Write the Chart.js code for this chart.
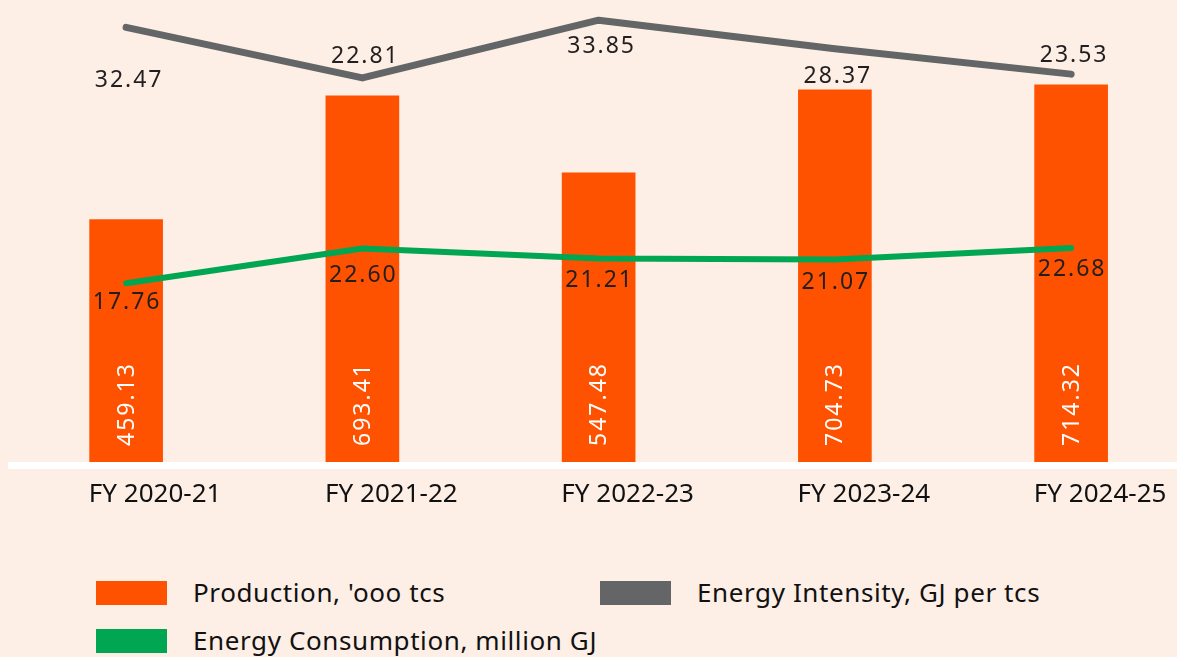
<!DOCTYPE html>
<html>
<head>
<meta charset="utf-8">
<script src="https://cdn.jsdelivr.net/npm/chart.js@4.4.1/dist/chart.umd.min.js"></script>
<style>
  html, body { margin: 0; padding: 0; background: #fdeee6; width: 1177px; height: 657px; overflow: hidden; }
  #wrap { position: absolute; left: 0; top: 0; width: 1200px; height: 540px; }
  .leg { position: absolute; font-family: "Noto Sans", sans-serif; font-size: 26px; letter-spacing: 0.6px; color: #111; line-height: 26px; white-space: nowrap; }
  .sw { position: absolute; width: 71px; height: 24px; }
</style>
</head>
<body>
<div id="wrap"><canvas id="c" width="1200" height="540"></canvas></div>
<div id="legend"></div>
<script>
const categories = ['FY 2020-21', 'FY 2021-22', 'FY 2022-23', 'FY 2023-24', 'FY 2024-25'];
const production = [459.13, 693.41, 547.48, 704.73, 714.32];
const energyIntensity = [32.47, 22.81, 33.85, 28.37, 23.53];
const energyConsumption = [17.76, 22.60, 21.21, 21.07, 22.68];
const seriesLabels = ["Production, 'ooo tcs", 'Energy Intensity, GJ per tcs', 'Energy Consumption, million GJ'];

// label placement (style only)
const intensityLabelDy = [53, -21, 26, 28, -19];
const consumptionLabelDy = [19, 27, 22, 23, 22];

const ORANGE = '#ff5200', GRAY = '#636567', GREEN = '#00a651', TEXT = '#231f20';

const labelPlugin = {
  id: 'labels',
  beforeDatasetsDraw(chart) {
    const ctx = chart.ctx, a = chart.chartArea;
    ctx.save();
    ctx.fillStyle = '#ffffff';
    ctx.fillRect(a.left, a.bottom, a.right - a.left, 7);
    ctx.restore();
  },
  afterDatasetsDraw(chart) {
    const ctx = chart.ctx;
    ctx.save();
    ctx.font = '23px "Noto Sans"';
    ctx.letterSpacing = '2px';
    const barMeta = chart.getDatasetMeta(0);
    barMeta.data.forEach((el, i) => {
      ctx.save();
      ctx.translate(el.x + 1, chart.chartArea.bottom - 16);
      ctx.rotate(-Math.PI / 2);
      ctx.fillStyle = '#ffffff';
      ctx.textAlign = 'left';
      ctx.textBaseline = 'middle';
      ctx.fillText(production[i].toFixed(2), 0, 0);
      ctx.restore();
    });
    ctx.fillStyle = TEXT;
    ctx.textAlign = 'center';
    ctx.textBaseline = 'middle';
    chart.getDatasetMeta(1).data.forEach((el, i) => {
      ctx.fillText(energyIntensity[i].toFixed(2), el.x + 3, el.y + intensityLabelDy[i]);
    });
    chart.getDatasetMeta(2).data.forEach((el, i) => {
      ctx.fillText(energyConsumption[i].toFixed(2), el.x + 1, el.y + consumptionLabelDy[i]);
    });
    ctx.restore();
  }
};

const chart = new Chart(document.getElementById('c'), {
  data: {
    labels: categories,
    datasets: [
      { type: 'bar', label: seriesLabels[0], data: production, backgroundColor: ORANGE, barThickness: 73, yAxisID: 'yBar', order: 3 },
      { type: 'line', label: seriesLabels[1], data: energyIntensity, borderColor: GRAY, backgroundColor: GRAY, borderWidth: 7, pointRadius: 0, tension: 0, borderCapStyle: 'round', borderJoinStyle: 'round', yAxisID: 'yInt', order: 1, clip: false },
      { type: 'line', label: seriesLabels[2], data: energyConsumption, borderColor: GREEN, backgroundColor: GREEN, borderWidth: 6, pointRadius: 0, tension: 0, borderCapStyle: 'round', borderJoinStyle: 'round', yAxisID: 'yCons', order: 2, clip: false }
    ]
  },
  options: {
    responsive: false,
    animation: false,
    events: [],
    layout: { padding: { left: 8, right: 10.75, top: 0, bottom: 0 } },
    plugins: { legend: { display: false }, tooltip: { enabled: false } },
    scales: {
      x: {
        grid: { display: false, drawTicks: false },
        border: { display: false },
        ticks: { color: '#111', font: { family: 'Noto Sans', size: 26 }, padding: 17, maxRotation: 0, labelOffset: 29 },
        afterFit(s) { s.height = 78; }
      },
      yBar: { display: false, min: 0, max: 875 },
      yInt: { display: false, min: -50.73, max: 37.72 },
      yCons: { display: false, min: -7.2, max: 57.29 }
    }
  },
  plugins: [labelPlugin]
});

const legendPos = [
  { sx: 96, sy: 581, tx: 193 },
  { sx: 600, sy: 581, tx: 697 },
  { sx: 96, sy: 629, tx: 193 }
];
const legendEl = document.getElementById('legend');
chart.data.datasets.forEach((ds, i) => {
  const p = legendPos[i];
  const sw = document.createElement('div');
  sw.className = 'sw';
  sw.style.left = p.sx + 'px'; sw.style.top = p.sy + 'px';
  sw.style.background = ds.type === 'bar' ? ds.backgroundColor : ds.borderColor;
  legendEl.appendChild(sw);
  const t = document.createElement('div');
  t.className = 'leg';
  t.style.left = p.tx + 'px'; t.style.top = (p.sy - 2) + 'px';
  t.textContent = ds.label;
  legendEl.appendChild(t);
});
</script>
</body>
</html>
